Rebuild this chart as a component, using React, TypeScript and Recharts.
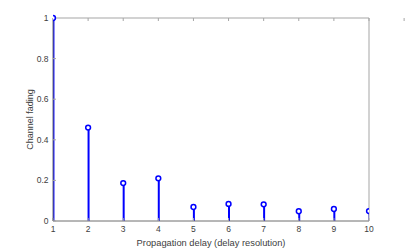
import React from "react";
import {
  ComposedChart,
  Bar,
  Scatter,
  XAxis,
  YAxis,
  Label,
} from "recharts";

const delays = [1, 2, 3, 4, 5, 6, 7, 8, 9, 10];
const fading = [1, 0.46, 0.187, 0.21, 0.069, 0.084, 0.082, 0.048, 0.059, 0.049];
const xTicks = [1, 2, 3, 4, 5, 6, 7, 8, 9, 10];
const yTicks = [0, 0.2, 0.4, 0.6, 0.8, 1];

const data = delays.map((d, i) => ({ delay: d, fading: fading[i] }));

const STEM = "#0000ff";
const AXIS = "#6e6e6e";
const AXIS_LIGHT = "#a5a5a5";
const TEXT = "#404040";
const FONT = "'Liberation Sans', Arial, sans-serif";

const StemHead = ({ cx, cy }: any) => (
  <circle cx={cx} cy={cy} r={2.4} fill="#ffffff" stroke={STEM} strokeWidth={1.5} />
);

const NoTick = () => <g />;

export default function App() {
  const tickStyle = { fontSize: 8.5, fill: TEXT, fontFamily: FONT };
  return (
    <div style={{ position: "absolute", left: 0, top: 0, background: "#fff" }}>
      <ComposedChart
        width={407}
        height={249}
        data={data}
        margin={{ top: 17, right: 37, left: 0, bottom: 0 }}
      >
        <XAxis
          dataKey="delay"
          type="number"
          domain={[1, 10]}
          ticks={xTicks}
          height={28}
          stroke={AXIS}
          tickSize={-3}
          tickMargin={8}
          tick={tickStyle}
          tickLine={{ stroke: AXIS_LIGHT }}
          allowDataOverflow
        >
          <Label
            value="Propagation delay (delay resolution)"
            position="insideBottom"
            offset={3}
            style={{ fontSize: 9.3, fill: TEXT, fontFamily: FONT }}
          />
        </XAxis>
        <XAxis
          xAxisId="top"
          orientation="top"
          type="number"
          domain={[1, 10]}
          ticks={xTicks}
          height={1}
          stroke={AXIS_LIGHT}
          tickSize={-3}
          tick={<NoTick />}
          allowDataOverflow
        />
        <YAxis
          type="number"
          domain={[0, 1]}
          ticks={yTicks}
          width={53}
          stroke={AXIS}
          tickSize={-3}
          tickMargin={7.5}
          tick={tickStyle}
          tickLine={{ stroke: AXIS_LIGHT }}
        >
          <Label
            value="Channel fading"
            angle={-90}
            position="center"
            dx={3}
            style={{ fontSize: 9, fill: TEXT, fontFamily: FONT, textAnchor: "middle" }}
          />
        </YAxis>
        <YAxis
          yAxisId="right"
          orientation="right"
          type="number"
          domain={[0, 1]}
          ticks={yTicks}
          width={1}
          stroke={AXIS_LIGHT}
          tickSize={-3}
          tick={<NoTick />}
        />
        <Bar dataKey="fading" barSize={2} fill={STEM} isAnimationActive={false} />
        <Scatter dataKey="fading" fill={STEM} shape={<StemHead />} isAnimationActive={false} />
      </ComposedChart>
    </div>
  );
}
